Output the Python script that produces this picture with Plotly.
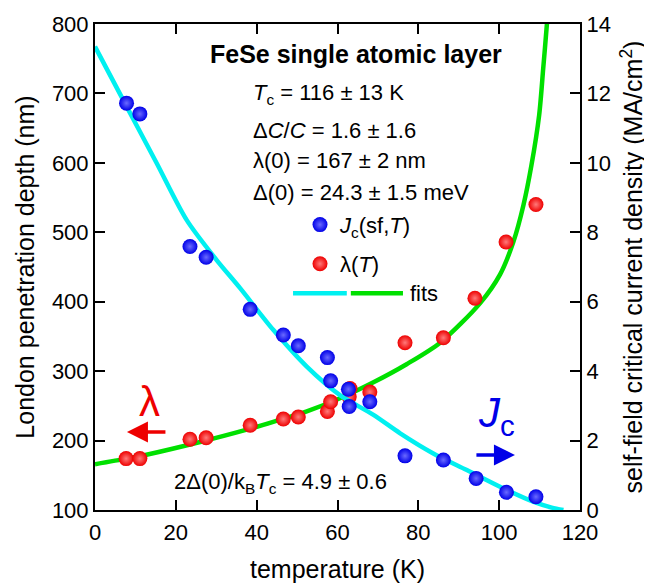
import plotly.graph_objects as go

# ---- data ----
T_jc = [7.8, 11.1, 23.5, 27.5, 38.4, 46.6, 50.3, 57.5, 58.3, 62.7, 62.9, 68.0, 76.7, 86.2, 94.3, 101.8, 109.1]
Jc = [11.72, 11.41, 7.59, 7.28, 5.78, 5.04, 4.73, 4.39, 3.72, 3.48, 2.98, 3.12, 1.56, 1.44, 0.91, 0.51, 0.38]

T_lam = [7.7, 11.1, 23.5, 27.5, 38.4, 46.6, 50.3, 57.5, 58.3, 62.9, 63.1, 68.0, 76.7, 86.2, 94.0, 101.7, 109.1]
lam = [174, 174, 202, 204, 222, 231, 234, 242, 256, 263, 275, 270, 341, 348, 405, 486, 540]

T_fit_lam = [0, 7.84, 13, 26, 37.1, 44.1, 52.4, 60.6, 68.9, 77.1, 85.4, 95.3, 100.2, 103.5, 106.0, 108.0, 109.9, 110.9, 111.8, 112.3]
lam_fit = [166, 174, 180, 198, 215, 227, 242, 261, 284, 310, 341, 398, 439, 486, 539, 597, 669, 736, 799, 840]

T_fit_jc = [0, 7.84, 15.27, 22.7, 30.1, 35.9, 44.1, 52.4, 60.6, 68.9, 75.5, 83.7, 92.0, 100.2, 108.4, 113.0, 115.9]
jc_fit = [13.35, 11.62, 9.99, 8.35, 7.20, 6.39, 5.19, 4.13, 3.31, 2.74, 2.21, 1.63, 1.15, 0.67, 0.24, 0.07, 0.0]

x_ticks = [0, 20, 40, 60, 80, 100, 120]
y_ticks = [100, 200, 300, 400, 500, 600, 700, 800]
y2_ticks = [0, 2, 4, 6, 8, 10, 12, 14]

FONT = "Liberation Sans, Arial, sans-serif"
BLUE = "#0000e8"
RED = "#ee0000"
CYAN = "#00f0f0"
GREEN = "#00e000"

fig = go.Figure()
fig.add_trace(go.Scatter(x=T_fit_lam, y=lam_fit, mode="lines", yaxis="y",
                         line=dict(color=GREEN, width=4.5, shape="spline", smoothing=0.8),
                         showlegend=False, hoverinfo="skip"))
fig.add_trace(go.Scatter(x=T_lam, y=lam, mode="markers", yaxis="y",
                         marker=dict(size=15, color=RED, gradient=dict(type="radial", color="#ff7a7a")),
                         name="λ(<i>T</i>)", legendrank=2, legendgroup="b"))
fig.add_trace(go.Scatter(x=T_fit_jc, y=jc_fit, mode="lines", yaxis="y2",
                         line=dict(color=CYAN, width=4.5, shape="spline", smoothing=0.8),
                         showlegend=False, hoverinfo="skip"))
fig.add_trace(go.Scatter(x=T_jc, y=Jc, mode="markers", yaxis="y2",
                         marker=dict(size=15, color=BLUE, gradient=dict(type="radial", color="#6a6aff")),
                         name="<i>J</i><sub>c</sub>(sf,<i>T</i>)", legendrank=1, legendgroup="a"))

axis_common = dict(ticks="inside", ticklen=10, tickwidth=2, tickcolor="black",
                   showline=True, linewidth=2, linecolor="black", showgrid=False,
                   zeroline=False, automargin=False,
                   tickfont=dict(size=22, family=FONT, color="black"))

# the page body adds an 8px offset, so the figure is 8px smaller each way
fig.update_layout(
    width=644, height=575,
    margin=dict(l=87, r=72, t=16, b=73),
    paper_bgcolor="white", plot_bgcolor="white",
    font=dict(family=FONT, color="black"),
    xaxis=dict(range=[0, 120], tickvals=x_ticks, mirror="ticks", ticklabelstandoff=2,
               title=dict(text="temperature (K)", font=dict(size=25), standoff=18),
               **axis_common),
    yaxis=dict(range=[100, 800], tickvals=y_ticks,
               title=dict(text="London penetration depth (nm)", font=dict(size=25), standoff=10),
               **axis_common),
    yaxis2=dict(range=[0, 14], tickvals=y2_ticks, overlaying="y", side="right",
                title=dict(text="self-field critical current density (MA/cm<sup>2</sup>)",
                           font=dict(size=25), standoff=15),
                **axis_common),
    legend=dict(x=0.4227, y=0.630, xanchor="left", yanchor="top",
                bgcolor="rgba(0,0,0,0)", borderwidth=0, tracegroupgap=7.5,
                font=dict(size=22, family=FONT, color="black")),
    showlegend=True,
)

ann = []
ann.append(dict(x=64.6, y=756.8, text="<b>FeSe single atomic layer</b>", showarrow=False,
                xanchor="center", yanchor="middle", font=dict(size=25)))
left_x = 38.5
for yy, t in [(699.6, "<i>T</i><sub>c</sub> = 116 ± 13 K"),
              (647.3, "Δ<i>C</i>/<i>C</i> = 1.6 ± 1.6"),
              (602.7, "λ(0) = 167 ± 2 nm"),
              (558.0, "Δ(0) = 24.3 ± 1.5 meV")]:
    ann.append(dict(x=left_x, y=yy, text=t, showarrow=False, xanchor="left",
                    yanchor="middle", font=dict(size=22)))
ann.append(dict(x=19.0, y=138.9, text="2Δ(0)/k<sub>B</sub><i>T</i><sub>c</sub> = 4.9 ± 0.6",
                showarrow=False, xanchor="left", yanchor="middle", font=dict(size=22)))
ann.append(dict(x=77.4, y=412.1, text="fits", showarrow=False, xanchor="left",
                yanchor="middle", font=dict(size=22)))
ann.append(dict(x=13.4, y=256, text="λ", showarrow=False, xanchor="center",
                yanchor="middle", font=dict(size=42, color=RED)))
ann.append(dict(x=99.4, y=236, text="<i>J</i><sub>c</sub>", showarrow=False, xanchor="center",
                yanchor="middle", font=dict(size=42, color=BLUE)))
# arrows
ann.append(dict(x=7.9, y=212.4, ax=17.8, ay=212.4, axref="x", ayref="y", text="",
                showarrow=True, arrowhead=2, arrowsize=1.2, arrowwidth=3.5, arrowcolor=RED))
ann.append(dict(x=103.9, y=179.2, ax=94.0, ay=179.2, axref="x", ayref="y", text="",
                showarrow=True, arrowhead=2, arrowsize=1.2, arrowwidth=3.5, arrowcolor=BLUE))
fig.update_layout(annotations=ann)

shapes = [
    dict(type="line", xref="x", yref="y", x0=49.0, x1=62.3, y0=412.1, y1=412.1,
         line=dict(color=CYAN, width=4.5)),
    dict(type="line", xref="x", yref="y", x0=63.3, x1=76.2, y0=412.1, y1=412.1,
         line=dict(color=GREEN, width=4.5)),
]
fig.update_layout(shapes=shapes)

fig.write_html("out.html")
